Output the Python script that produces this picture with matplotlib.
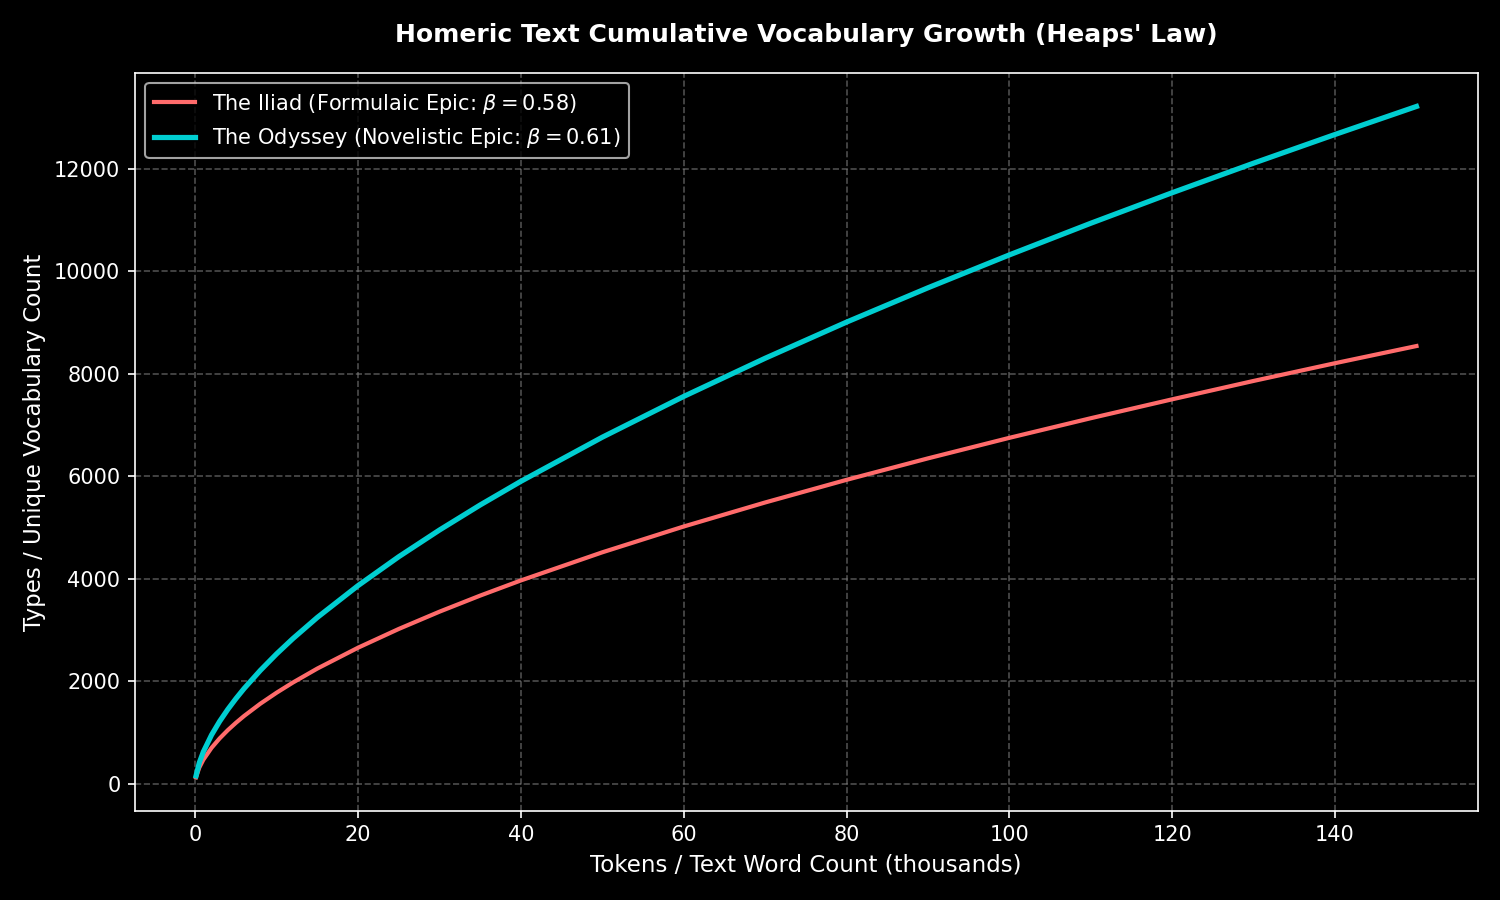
import matplotlib
matplotlib.use('Agg')
import matplotlib.pyplot as plt

# word counts in thousands and vocabulary sizes
tokens_k = [0.1, 0.5, 1, 2, 3, 4, 5, 6, 8, 10, 12, 15, 20, 25, 30, 35, 40,
            50, 60, 70, 80, 90, 100, 110, 120, 130, 140, 150]
iliad = [123, 313, 467, 698, 883, 1044, 1188, 1321, 1561, 1776, 1974, 2247,
         2654, 3020, 3357, 3671, 3967, 4516, 5020, 5489, 5931, 6350, 6751,
         7134, 7503, 7862, 8208, 8543]
odyssey = [153, 408, 622, 949, 1216, 1449, 1660, 1856, 2211, 2534, 2832, 3245,
           3866, 4430, 4951, 5440, 5902, 6763, 7559, 8304, 9010, 9680, 10322,
           10940, 11536, 12113, 12673, 13220]

plt.style.use('dark_background')
fig, ax = plt.subplots(figsize=(10, 6), dpi=150)

ax.plot(tokens_k, iliad, color='#FF6B6B', linewidth=2,
        label=r'The Iliad (Formulaic Epic: $\beta = 0.58$)')
ax.plot(tokens_k, odyssey, color='#00CED1', linewidth=2.5,
        label=r'The Odyssey (Novelistic Epic: $\beta = 0.61$)')

ax.set_title("Homeric Text Cumulative Vocabulary Growth (Heaps' Law)",
             fontsize=12, fontweight='bold', pad=15)
ax.set_xlabel('Tokens / Text Word Count (thousands)', fontsize=11)
ax.set_ylabel('Types / Unique Vocabulary Count', fontsize=11)
ax.tick_params(labelsize=10)
ax.grid(True, linestyle='--', color='gray', alpha=0.6)
ax.legend(loc='upper left', fontsize=10)

plt.subplots_adjust(left=0.09, right=0.985, top=0.919, bottom=0.099)
plt.savefig('out.png')
